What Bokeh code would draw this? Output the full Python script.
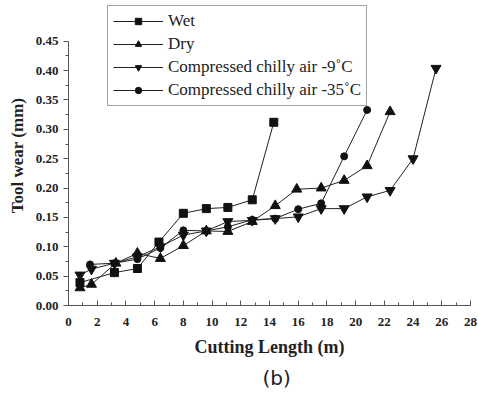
from bokeh.plotting import figure
from bokeh.models import (Range1d, Legend, LegendItem, NumeralTickFormatter,
                          FixedTicker, Title)
from bokeh.embed import file_html
from bokeh.resources import INLINE

# ---- data ----
wet_x = [0.8, 3.2, 4.8, 6.3, 8.0, 9.6, 11.1, 12.8, 14.3]
wet_y = [0.039, 0.056, 0.063, 0.108, 0.157, 0.165, 0.167, 0.180, 0.312]

dry_x = [0.8, 1.6, 3.3, 4.8, 6.4, 8.0, 9.6, 11.1, 12.8, 14.4, 15.9, 17.6, 19.2, 20.8, 22.4]
dry_y = [0.030, 0.036, 0.072, 0.089, 0.080, 0.102, 0.127, 0.126, 0.143, 0.170,
         0.198, 0.200, 0.213, 0.238, 0.330]

m9_x = [0.8, 1.6, 3.2, 4.8, 6.4, 8.0, 9.6, 11.1, 12.8, 14.4, 16.0, 17.6, 19.2,
        20.8, 22.4, 24.0, 25.6]
m9_y = [0.052, 0.062, 0.072, 0.083, 0.100, 0.120, 0.127, 0.143, 0.145, 0.148,
        0.151, 0.165, 0.165, 0.185, 0.196, 0.250, 0.404]

m35_x = [1.5, 3.2, 4.8, 6.4, 8.0, 9.6, 11.1, 12.8, 14.4, 16.0, 17.6, 19.2, 20.8]
m35_y = [0.070, 0.072, 0.079, 0.098, 0.128, 0.127, 0.134, 0.146, 0.148, 0.164,
         0.174, 0.254, 0.333]

labels = ["Wet", "Dry", "Compressed chilly air -9\u02daC", "Compressed chilly air -35\u02daC"]
x_ticks = list(range(0, 29, 2))
y_ticks = [0.0, 0.05, 0.10, 0.15, 0.20, 0.25, 0.30, 0.35, 0.40, 0.45]
y_minor = [0.025, 0.075, 0.125, 0.175, 0.225, 0.275, 0.325, 0.375, 0.425]

# ---- layout (pixels) ----
W, H = 478, 393
B_LEFT, B_RIGHT, B_TOP, B_BOTTOM = 68, 8, 5, 86
AXIS_TOP_PX = 266          # pixel height that 0 .. 0.45 should take
frame_h = H - B_TOP - B_BOTTOM
y_end = 0.45 * frame_h / AXIS_TOP_PX

serif = "Liberation Serif"
axis_col = "#555555"
txt_col = "#222222"

p = figure(width=W, height=H, x_range=Range1d(0, 28), y_range=Range1d(0, y_end),
           output_backend="svg", toolbar_location=None,
           min_border_left=B_LEFT, min_border_right=B_RIGHT,
           min_border_top=B_TOP, min_border_bottom=B_BOTTOM)
p.outline_line_color = None
p.xgrid.visible = False
p.ygrid.visible = False
p.background_fill_color = "white"
p.border_fill_color = "white"

# x axis
xa = p.xaxis[0]
xa.ticker = FixedTicker(ticks=x_ticks, minor_ticks=list(range(1, 28, 2)))
xa.major_tick_in = 5
xa.major_tick_out = 0
xa.minor_tick_in = 3
xa.minor_tick_out = 0
xa.axis_line_color = axis_col
xa.major_tick_line_color = axis_col
xa.minor_tick_line_color = axis_col
xa.major_label_text_font = serif
xa.major_label_text_font_style = "bold"
xa.major_label_text_font_size = "13px"
xa.major_label_text_color = txt_col
xa.major_label_standoff = 12
xa.axis_label = "Cutting Length (m)"
xa.axis_label_text_font = serif
xa.axis_label_text_font_style = "bold"
xa.axis_label_text_font_size = "18px"
xa.axis_label_text_color = txt_col
xa.axis_label_standoff = 8

# y axis
ya = p.yaxis[0]
ya.ticker = FixedTicker(ticks=y_ticks, minor_ticks=y_minor)
ya.bounds = (0, 0.45)
ya.formatter = NumeralTickFormatter(format="0.00")
ya.major_tick_in = 0
ya.major_tick_out = 5
ya.minor_tick_in = 0
ya.minor_tick_out = 3
ya.axis_line_color = axis_col
ya.major_tick_line_color = axis_col
ya.minor_tick_line_color = axis_col
ya.major_label_text_font = serif
ya.major_label_text_font_style = "bold"
ya.major_label_text_font_size = "13px"
ya.major_label_text_color = txt_col
ya.major_label_standoff = 5
ya.axis_label = "Tool wear (mm)"
ya.axis_label_text_font = serif
ya.axis_label_text_font_style = "bold"
ya.axis_label_text_font_size = "17px"
ya.axis_label_text_color = txt_col
ya.axis_label_standoff = 6

lc = "#222222"
mc = "#111111"
items = []
l1 = p.line(wet_x, wet_y, line_color=lc, line_width=1)
s1 = p.scatter(wet_x, wet_y, marker="square", size=8, fill_color=mc, line_color=mc)
items.append(LegendItem(label=labels[0], renderers=[l1, s1]))

l2 = p.line(dry_x, dry_y, line_color=lc, line_width=1)
s2 = p.scatter(dry_x, dry_y, marker="triangle", size=10, fill_color=mc, line_color=mc)
items.append(LegendItem(label=labels[1], renderers=[l2, s2]))

l3 = p.line(m9_x, m9_y, line_color=lc, line_width=1)
s3 = p.scatter(m9_x, m9_y, marker="inverted_triangle", size=10, fill_color=mc, line_color=mc)
items.append(LegendItem(label=labels[2], renderers=[l3, s3]))

l4 = p.line(m35_x, m35_y, line_color=lc, line_width=1)
s4 = p.scatter(m35_x, m35_y, marker="circle", size=7, fill_color=mc, line_color=mc)
items.append(LegendItem(label=labels[3], renderers=[l4, s4]))

legend = Legend(items=items, location=(39, 199))
legend.label_text_font = serif
legend.label_text_font_size = "17px"
legend.label_text_color = txt_col
legend.glyph_width = 50
legend.glyph_height = 16
legend.label_height = 16
legend.spacing = 3
legend.padding = 5
legend.margin = 0
legend.label_standoff = 5
legend.border_line_color = "#444444"
legend.border_line_width = 1
legend.background_fill_alpha = 1
p.add_layout(legend, "center")

p.add_layout(Title(text="(b)", align="left", text_font="DejaVu Sans",
                   text_font_size="20px", text_font_style="normal",
                   text_color=txt_col, standoff=8, offset=194), "below")

open("out.html", "w").write(file_html(p, INLINE))
